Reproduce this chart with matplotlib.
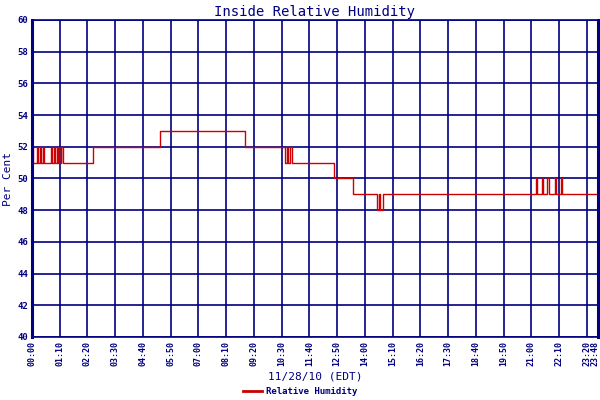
import matplotlib
matplotlib.use("Agg")
import matplotlib.pyplot as plt

# minutes since midnight where the reading changes, and the new value
change_min = [0, 3, 13, 16, 20, 23, 27, 30, 48, 51, 55, 58, 62, 65, 69, 72, 74, 77,
              153, 322, 537, 638, 644, 647, 652, 656, 761, 811,
              870, 875, 879, 885,
              1271, 1274, 1287, 1290, 1299, 1304, 1319, 1322, 1334, 1338, 1428]
humidity = [52, 51, 52, 51, 52, 51, 52, 51, 52, 51, 52, 51, 52, 51, 52, 51, 52, 51,
            52, 53, 52, 51, 52, 51, 52, 51, 50, 49,
            48, 49, 48, 49,
            50, 49, 50, 49, 50, 49, 50, 49, 50, 49, 49]

tick_min = [0, 70, 140, 210, 280, 350, 420, 490, 560, 630, 700, 770, 840, 910,
            980, 1050, 1120, 1190, 1260, 1330, 1400, 1428]
tick_labels = ["00:00", "01:10", "02:20", "03:30", "04:40", "05:50", "07:00", "08:10",
               "09:20", "10:30", "11:40", "12:50", "14:00", "15:10", "16:20", "17:30",
               "18:40", "19:50", "21:00", "22:10", "23:20", "23:48"]
y_ticks = [40, 42, 44, 46, 48, 50, 52, 54, 56, 58, 60]

navy = "#000080"
red = "#cc0000"
mono = "DejaVu Sans Mono"

fig = plt.figure(figsize=(6, 4), dpi=100)
ax = fig.add_axes([32 / 600, 63 / 400, 566 / 600, 317 / 400])

line, = ax.plot(change_min, humidity, drawstyle="steps-post", color=red, lw=1.0,
                label="Relative Humidity")

ax.set_xlim(0, 1428)
ax.set_ylim(40, 60)
ax.set_yticks(y_ticks)
ax.set_yticklabels([str(v) for v in y_ticks], family=mono, fontsize=6.5,
                   fontweight="bold", color=navy)
ax.set_xticks(tick_min)
# last label drawn by hand below, nudged left so it stays inside the image
ax.set_xticklabels(tick_labels[:-1] + [""], rotation=90, family=mono, fontsize=6,
                   fontweight="bold", color=navy)
ax.annotate(tick_labels[-1], xy=(tick_min[-1], 0), xycoords=ax.get_xaxis_transform(),
            xytext=(-2.4, -3), textcoords="offset points", rotation=90,
            ha="center", va="top", family=mono, fontsize=6, fontweight="bold",
            color=navy, annotation_clip=False)
ax.tick_params(length=0, pad=3)

ax.grid(True, color=navy, lw=1.2)
ax.set_axisbelow(True)
for side, sp in ax.spines.items():
    sp.set_color(navy)
    sp.set_linewidth(1.2)
ax.spines["left"].set_linewidth(2.2)
ax.spines["right"].set_linewidth(2.2)

ax.set_title("Inside Relative Humidity", family=mono, fontsize=10, color=navy, pad=3)
ax.set_ylabel("Per Cent", family=mono, fontsize=8, color=navy, labelpad=3)
ax.set_xlabel("11/28/10 (EDT)", family=mono, fontsize=8, color=navy, labelpad=4)

fig.legend(handles=[line], loc="lower center", bbox_to_anchor=(0.5, -0.01),
           frameon=False, prop={"family": mono, "size": 6.5, "weight": "bold"},
           labelcolor=navy, handlelength=2.2, handletextpad=0.4)
line_leg = fig.legends[0].get_lines()[0]
line_leg.set_linewidth(2)

fig.savefig("out.png", dpi=100)
